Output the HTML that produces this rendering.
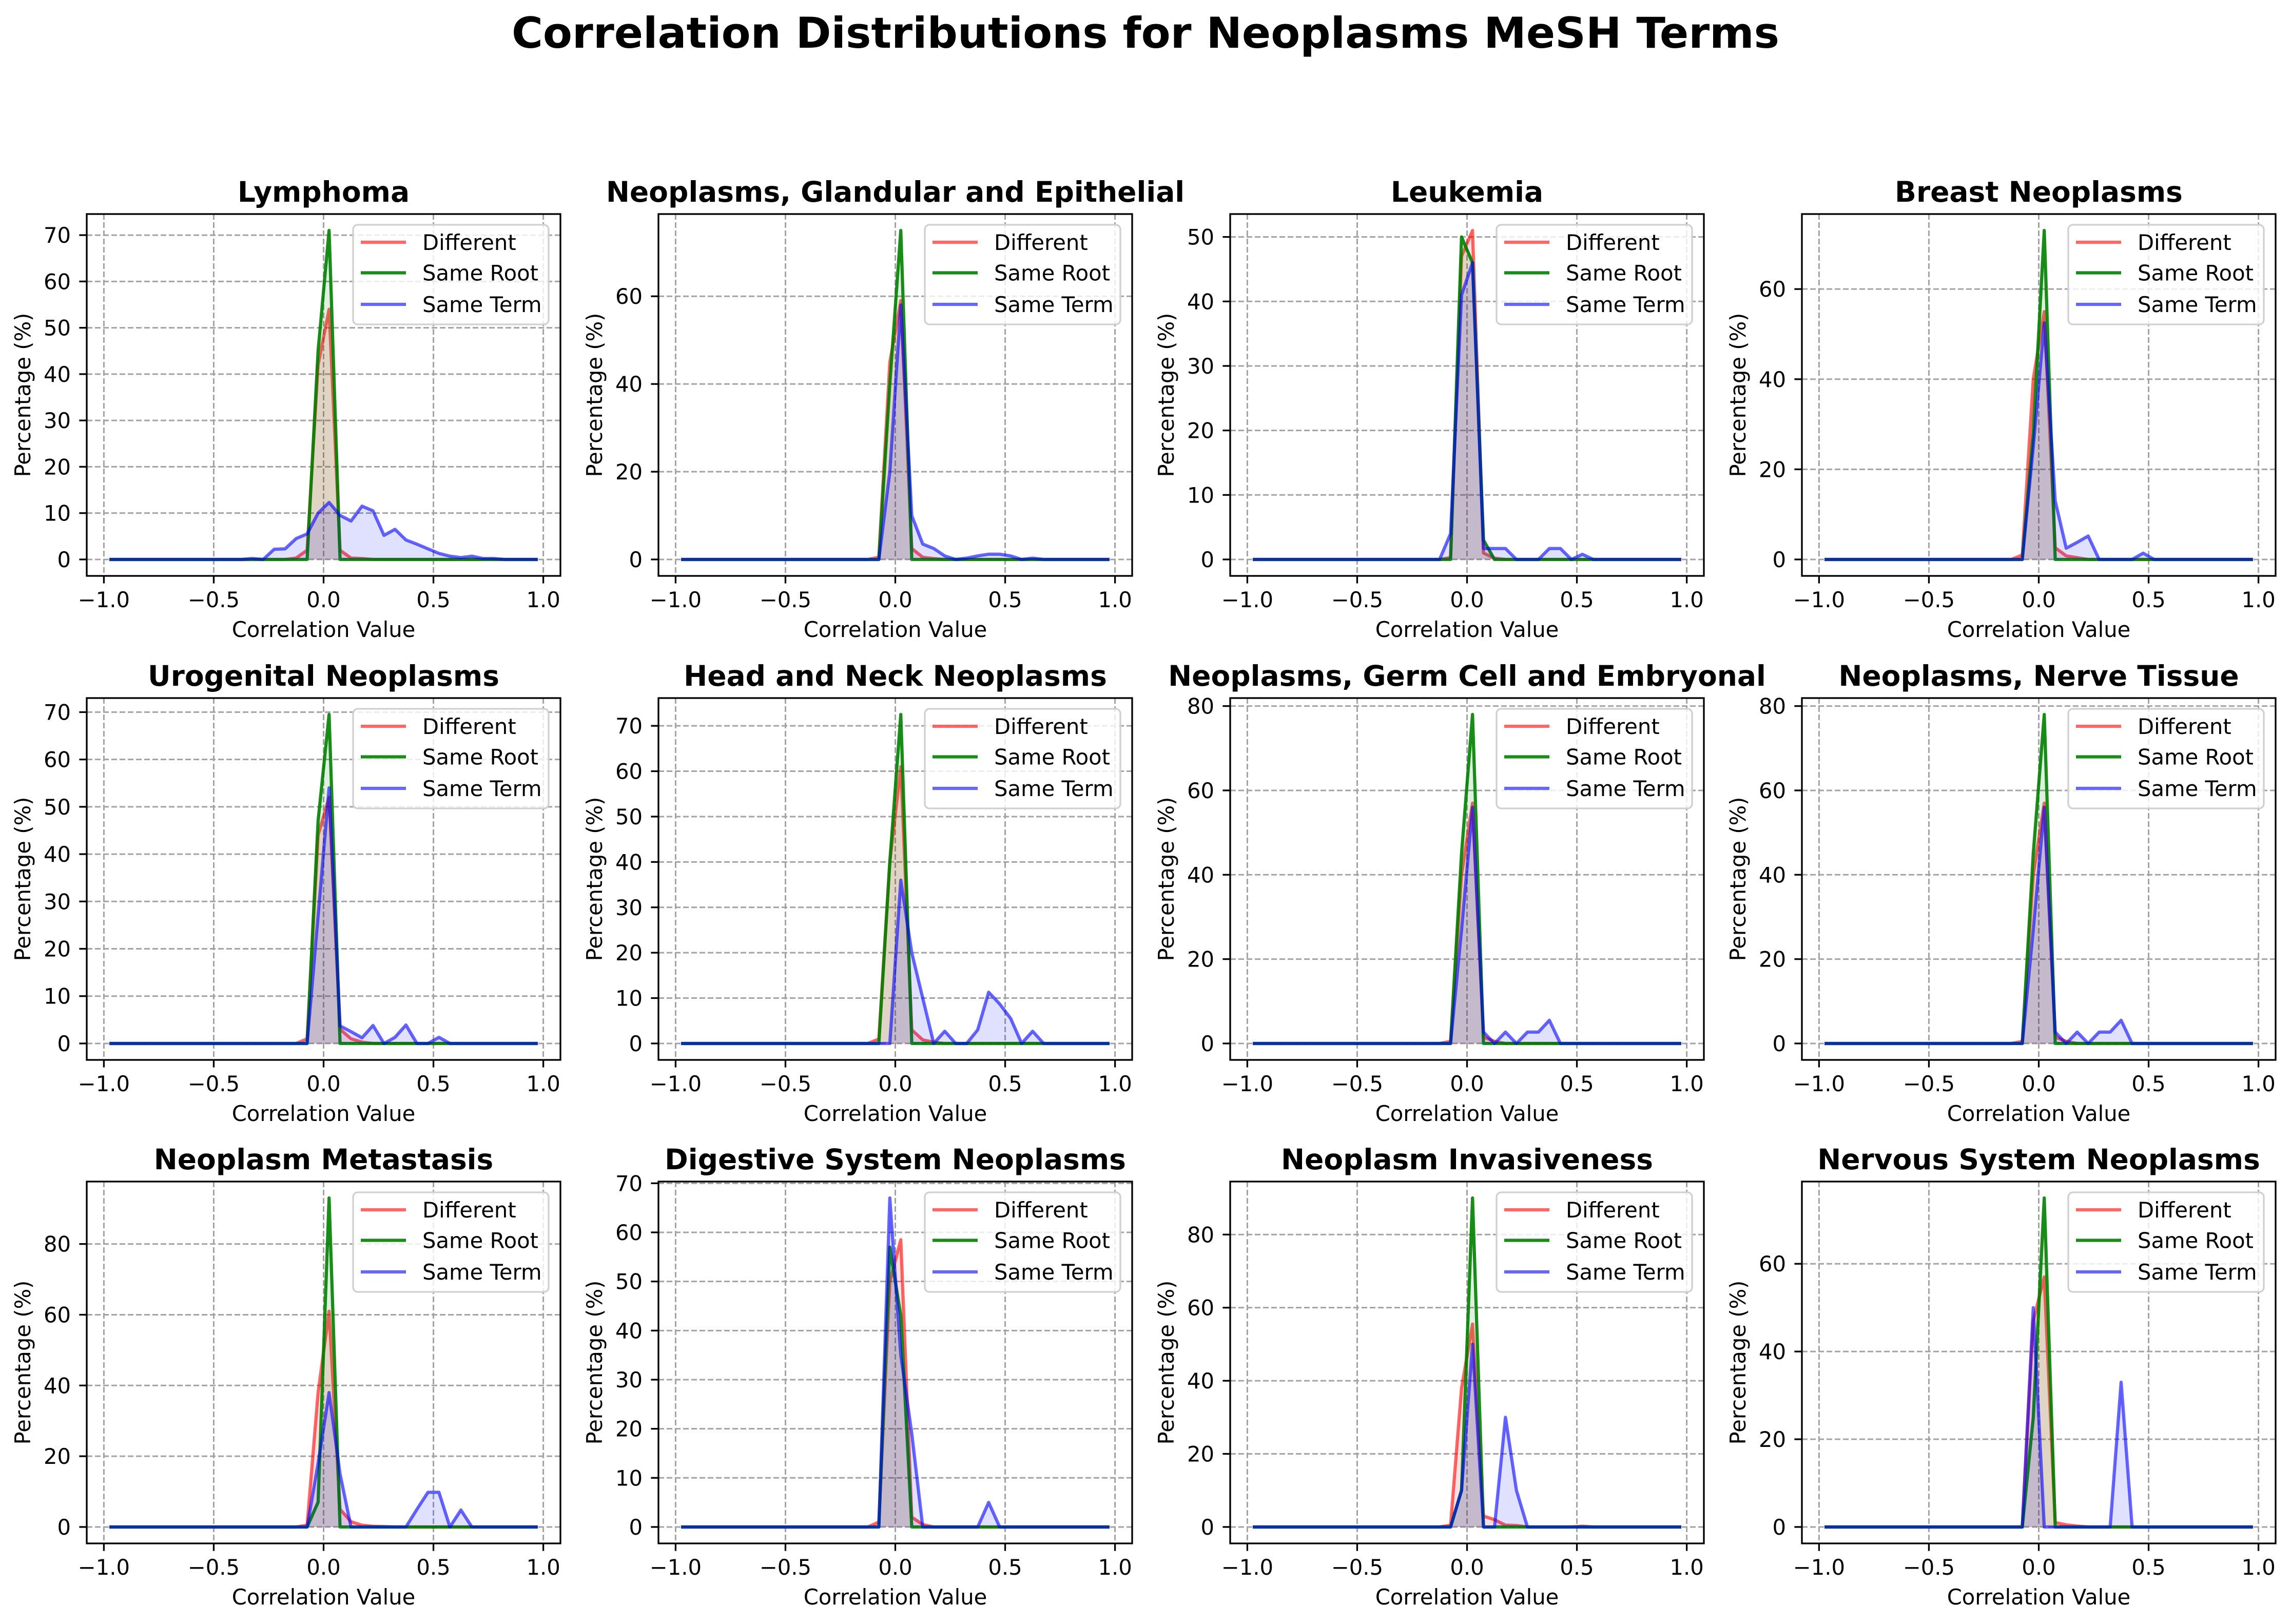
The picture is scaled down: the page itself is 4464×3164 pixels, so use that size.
<!DOCTYPE html>
<html><head><meta charset="utf-8"><style>
html,body{margin:0;padding:0;background:#fff;}
svg{display:block;font-family:"DejaVu Sans","Liberation Sans",sans-serif;}
</style></head><body>
<svg id="fig" xmlns="http://www.w3.org/2000/svg" width="4464" height="3164" viewBox="0 0 4464 3164">
<rect width="4464" height="3164" fill="#fff"/>
<text x="2232" y="93" text-anchor="middle" font-size="83" font-weight="bold">Correlation Distributions for Neoplasms MeSH Terms</text>
</svg>
<script>
const titles = ["Lymphoma","Neoplasms, Glandular and Epithelial","Leukemia","Breast Neoplasms","Urogenital Neoplasms","Head and Neck Neoplasms","Neoplasms, Germ Cell and Embryonal","Neoplasms, Nerve Tissue","Neoplasm Metastasis","Digestive System Neoplasms","Neoplasm Invasiveness","Nervous System Neoplasms"];
const binCenters = [-0.975,-0.925,-0.875,-0.825,-0.775,-0.725,-0.675,-0.625,-0.575,-0.525,-0.475,-0.425,-0.375,-0.325,-0.275,-0.225,-0.175,-0.125,-0.075,-0.025,0.025,0.075,0.125,0.175,0.225,0.275,0.325,0.375,0.425,0.475,0.525,0.575,0.625,0.675,0.725,0.775,0.825,0.875,0.925,0.975];
const xTicks = [-1.0,-0.5,0.0,0.5,1.0];
const xTickLabels = ["\u22121.0","\u22120.5","0.0","0.5","1.0"];
const yTickSets = [[0,10,20,30,40,50,60,70],[0,20,40,60],[0,10,20,30,40,50],[0,20,40,60],[0,10,20,30,40,50,60,70],[0,10,20,30,40,50,60,70],[0,20,40,60,80],[0,20,40,60,80],[0,20,40,60,80],[0,10,20,30,40,50,60,70],[0,20,40,60,80],[0,20,40,60]];
const seriesNames = ["Different","Same Root","Same Term"];
// Different
const diffValues = [
[0,0,0,0,0,0,0,0,0,0,0,0,0,0,0,0,0,0.3,2,42,54,2,0.3,0.2,0,0,0,0,0,0,0,0,0,0,0,0,0,0,0,0],
[0,0,0,0,0,0,0,0,0,0,0,0,0,0,0,0,0,0,0.5,45,59,2.5,0.5,0.2,0,0,0,0,0,0,0,0,0,0,0,0,0,0,0,0],
[0,0,0,0,0,0,0,0,0,0,0,0,0,0,0,0,0,0,0.3,47,51,1,0.2,0,0,0,0,0,0,0,0,0,0,0,0,0,0,0,0,0],
[0,0,0,0,0,0,0,0,0,0,0,0,0,0,0,0,0,0,1,40,55,2.6,0.8,0.4,0,0,0,0,0,0,0,0,0,0,0,0,0,0,0,0],
[0,0,0,0,0,0,0,0,0,0,0,0,0,0,0,0,0,0,1,44,52,3,1,0.3,0,0,0,0,0,0,0,0,0,0,0,0,0,0,0,0],
[0,0,0,0,0,0,0,0,0,0,0,0,0,0,0,0,0,0,1,40,61,3,0.8,0.3,0,0,0,0,0,0,0,0,0,0,0,0,0,0,0,0],
[0,0,0,0,0,0,0,0,0,0,0,0,0,0,0,0,0,0,0.5,40,57,1.5,0.5,0,0,0,0,0,0,0,0,0,0,0,0,0,0,0,0,0],
[0,0,0,0,0,0,0,0,0,0,0,0,0,0,0,0,0,0,0.5,40,57,1.5,0.5,0,0,0,0,0,0,0,0,0,0,0,0,0,0,0,0,0],
[0,0,0,0,0,0,0,0,0,0,0,0,0,0,0,0,0,0,0.5,38,61,5,1.5,0.5,0.2,0.1,0,0,0,0,0,0,0,0,0,0,0,0,0,0],
[0,0,0,0,0,0,0,0,0,0,0,0,0,0,0,0,0,0,1,50,58.5,2,0.5,0,0,0,0,0,0,0,0,0,0,0,0,0,0,0,0,0],
[0,0,0,0,0,0,0,0,0,0,0,0,0,0,0,0,0,0,0.5,38,55.5,3,2,0.5,0.4,0,0,0,0,0,0.2,0,0,0,0,0,0,0,0,0],
[0,0,0,0,0,0,0,0,0,0,0,0,0,0,0,0,0,0,0,47,57,1,0.5,0.2,0,0,0,0,0,0,0,0,0,0,0,0,0,0,0,0]];
// Same Root
const rootValues = [
[0,0,0,0,0,0,0,0,0,0,0,0,0,0,0,0,0,0,0,45,71,0,0,0,0,0,0,0,0,0,0,0,0,0,0,0,0,0,0,0],
[0,0,0,0,0,0,0,0,0,0,0,0,0,0,0,0,0,0,0,40,75,0,0,0,0,0,0,0,0,0,0,0,0,0,0,0,0,0,0,0],
[0,0,0,0,0,0,0,0,0,0,0,0,0,0,0,0,0,0,0,50,46,3,0,0,0,0,0,0,0,0,0,0,0,0,0,0,0,0,0,0],
[0,0,0,0,0,0,0,0,0,0,0,0,0,0,0,0,0,0,0,28,73,0,0,0,0,0,0,0,0,0,0,0,0,0,0,0,0,0,0,0],
[0,0,0,0,0,0,0,0,0,0,0,0,0,0,0,0,0,0,0,47,69.5,0,0,0,0,0,0,0,0,0,0,0,0,0,0,0,0,0,0,0],
[0,0,0,0,0,0,0,0,0,0,0,0,0,0,0,0,0,0,0,40,72.5,0,0,0,0,0,0,0,0,0,0,0,0,0,0,0,0,0,0,0],
[0,0,0,0,0,0,0,0,0,0,0,0,0,0,0,0,0,0,0,45,78,0,0,0,0,0,0,0,0,0,0,0,0,0,0,0,0,0,0,0],
[0,0,0,0,0,0,0,0,0,0,0,0,0,0,0,0,0,0,0,45,78,0,0,0,0,0,0,0,0,0,0,0,0,0,0,0,0,0,0,0],
[0,0,0,0,0,0,0,0,0,0,0,0,0,0,0,0,0,0,0,7,93,0,0,0,0,0,0,0,0,0,0,0,0,0,0,0,0,0,0,0],
[0,0,0,0,0,0,0,0,0,0,0,0,0,0,0,0,0,0,0,57,43,0,0,0,0,0,0,0,0,0,0,0,0,0,0,0,0,0,0,0],
[0,0,0,0,0,0,0,0,0,0,0,0,0,0,0,0,0,0,0,10,90,0,0,0,0,0,0,0,0,0,0,0,0,0,0,0,0,0,0,0],
[0,0,0,0,0,0,0,0,0,0,0,0,0,0,0,0,0,0,0,25,75,0,0,0,0,0,0,0,0,0,0,0,0,0,0,0,0,0,0,0]];
// Same Term
const termValues = [
[0,0,0,0,0,0,0,0,0,0,0,0,0,0.2,0,2.2,2.3,4.5,5.5,10,12.3,9.5,8.3,11.5,10.5,5.2,6.5,4.2,3.3,2.3,1.3,0.7,0.4,0.7,0.2,0.2,0,0,0,0],
[0,0,0,0,0,0,0,0,0,0,0,0,0,0,0,0,0,0,0,20,58,10,3.5,2.5,0.8,0,0.3,0.8,1.2,1.2,0.8,0,0.3,0,0,0,0,0,0,0],
[0,0,0,0,0,0,0,0,0,0,0,0,0,0,0,0,0,0,4,41,46,1.7,1.7,1.7,0,0,0,1.7,1.7,0,0.8,0,0,0,0,0,0,0,0,0],
[0,0,0,0,0,0,0,0,0,0,0,0,0,0,0,0,0,0,0,25,52.5,13,2.5,3.8,5.2,0,0,0,0,1.4,0,0,0,0,0,0,0,0,0,0],
[0,0,0,0,0,0,0,0,0,0,0,0,0,0,0,0,0,0,0,27,54,3.7,2.5,1.2,3.8,0,1.3,3.9,0,0,1.3,0,0,0,0,0,0,0,0,0],
[0,0,0,0,0,0,0,0,0,0,0,0,0,0,0,0,0,0,0,0,36,20,10,0,2.7,0,0,3,11.3,8.7,5.5,0,2.7,0,0,0,0,0,0,0],
[0,0,0,0,0,0,0,0,0,0,0,0,0,0,0,0,0,0,0,27,56,2.7,0,2.7,0,2.7,2.7,5.5,0,0,0,0,0,0,0,0,0,0,0,0],
[0,0,0,0,0,0,0,0,0,0,0,0,0,0,0,0,0,0,0,27,56,2.7,0,2.7,0,2.7,2.7,5.5,0,0,0,0,0,0,0,0,0,0,0,0],
[0,0,0,0,0,0,0,0,0,0,0,0,0,0,0,0,0,0,0,18,38,15,0,0,0,0,0,0,5,9.8,9.8,0,4.8,0,0,0,0,0,0,0],
[0,0,0,0,0,0,0,0,0,0,0,0,0,0,0,0,0,0,0,67,35,19,0,0,0,0,0,0,5,0,0,0,0,0,0,0,0,0,0,0],
[0,0,0,0,0,0,0,0,0,0,0,0,0,0,0,0,0,0,0,10,50,0,0,30,10,0,0,0,0,0,0,0,0,0,0,0,0,0,0,0],
[0,0,0,0,0,0,0,0,0,0,0,0,0,0,0,0,0,0,0,50,0,0,0,0,0,0,0,33,0,0,0,0,0,0,0,0,0,0,0,0]];

const NS = "http://www.w3.org/2000/svg";
const svg = document.getElementById("fig");
const colLefts = [169,1283,2397,3511], rowTops = [417,1360,2302];
const AW = 923, AH = 705;
const lineColors = ["rgba(255,0,0,0.6)","rgba(0,128,0,0.9)","rgba(0,0,255,0.6)"];
const fillColors = ["rgba(255,0,0,0.12)","rgba(0,128,0,0.12)","rgba(0,0,255,0.12)"];
const XMIN=-1.078, XMAX=1.078;
function mk(tag, attrs, parent){const e=document.createElementNS(NS,tag);for(const k in attrs)e.setAttribute(k,attrs[k]);(parent||svg).appendChild(e);return e;}
function slug(s){return s.toLowerCase().replace(/[^a-z0-9]+/g,'-').replace(/^-|-$/g,'');}

titles.forEach((title, p) => {
  const L = colLefts[p%4], T = rowTops[Math.floor(p/4)];
  const series = [diffValues[p], rootValues[p], termValues[p]];
  const ymax = Math.max(...series.map(s=>Math.max(...s)));
  const Y0 = -0.05*ymax, Y1 = 1.05*ymax;
  const xs = v => L + (v-XMIN)/(XMAX-XMIN)*AW;
  const ys = v => T + AH - (v-Y0)/(Y1-Y0)*AH;
  const g = mk('g',{});
  
  
  const clipId='clip'+p;
  const cp = mk('clipPath',{id:clipId},g); mk('rect',{x:L,y:T,width:AW,height:AH},cp);
  xTicks.forEach(t=>{
    const gl = mk('line',{x1:xs(t),x2:xs(t),y1:T,y2:T+AH,stroke:'#a3a3a3','stroke-width':3,'stroke-dasharray':'11,5'},g);
    
    
  });
  yTickSets[p].forEach(t=>{
    const gl = mk('line',{x1:L,x2:L+AW,y1:ys(t),y2:ys(t),stroke:'#a3a3a3','stroke-width':3,'stroke-dasharray':'11,5'},g);
    
    
  });
  series.forEach((vals, si) => {
    const pts = vals.map((v,i)=>xs(binCenters[i]).toFixed(1)+','+ys(v).toFixed(1));
    const area = mk('polygon',{points: xs(binCenters[0])+','+ys(0)+' '+pts.join(' ')+' '+xs(binCenters[binCenters.length-1])+','+ys(0), fill: fillColors[si], 'clip-path':'url(#'+clipId+')'},g);
    
    
    const ln = mk('polyline',{points: pts.join(' '), fill:'none', stroke: lineColors[si], 'stroke-width':6.25, 'stroke-linejoin':'round','clip-path':'url(#'+clipId+')'},g);
    
    
  });
  const fr = mk('rect',{x:L,y:T,width:AW,height:AH,fill:'none',stroke:'#000','stroke-width':3.3},g);
  
  
  xTicks.forEach((t,i)=>{
    mk('line',{x1:xs(t),x2:xs(t),y1:T+AH,y2:T+AH+14.6,stroke:'#000','stroke-width':3.3},g);
    const tx = mk('text',{x:xs(t),y:T+AH+61,'text-anchor':'middle','font-size':41.7},g);
    tx.textContent = xTickLabels[i];
    
    
  });
  yTickSets[p].forEach(t=>{
    mk('line',{x1:L-14.6,x2:L,y1:ys(t),y2:ys(t),stroke:'#000','stroke-width':3.3},g);
    const ty = mk('text',{x:L-31,y:ys(t)+15,'text-anchor':'end','font-size':41.7},g);
    ty.textContent = String(t);
    
    
  });
  const xl = mk('text',{x:L+AW/2,y:T+AH+119,'text-anchor':'middle','font-size':41.7},g);
  xl.textContent='Correlation Value';
  
  
  const yl = mk('text',{x:0,y:0,'text-anchor':'middle','font-size':41.7,transform:'translate('+(L-110)+','+(T+AH/2)+') rotate(-90)'},g);
  yl.textContent='Percentage (%)';
  
  
  const tt = mk('text',{x:L+AW/2,y:T-24,'text-anchor':'middle','font-size':55,'font-weight':'bold'},g);
  tt.textContent = title;
  
  
  const lg = mk('g',{},g);
  
  
  mk('rect',{x:L+519,y:T+21,width:381,height:194,rx:9,fill:'rgba(255,255,255,0.8)',stroke:'#d0d0d0','stroke-width':3.3},lg);
  const rowsY=[55,114.5,176];
  seriesNames.forEach((n,si)=>{
    const hl = mk('line',{x1:L+534,x2:L+622,y1:T+rowsY[si],y2:T+rowsY[si],stroke:lineColors[si],'stroke-width':6.25},lg);
    
    
    const lt = mk('text',{x:L+654,y:T+rowsY[si]+15,'font-size':41.7},lg);
    lt.textContent = n;
    
    
  });
});
</script>
</body></html>
